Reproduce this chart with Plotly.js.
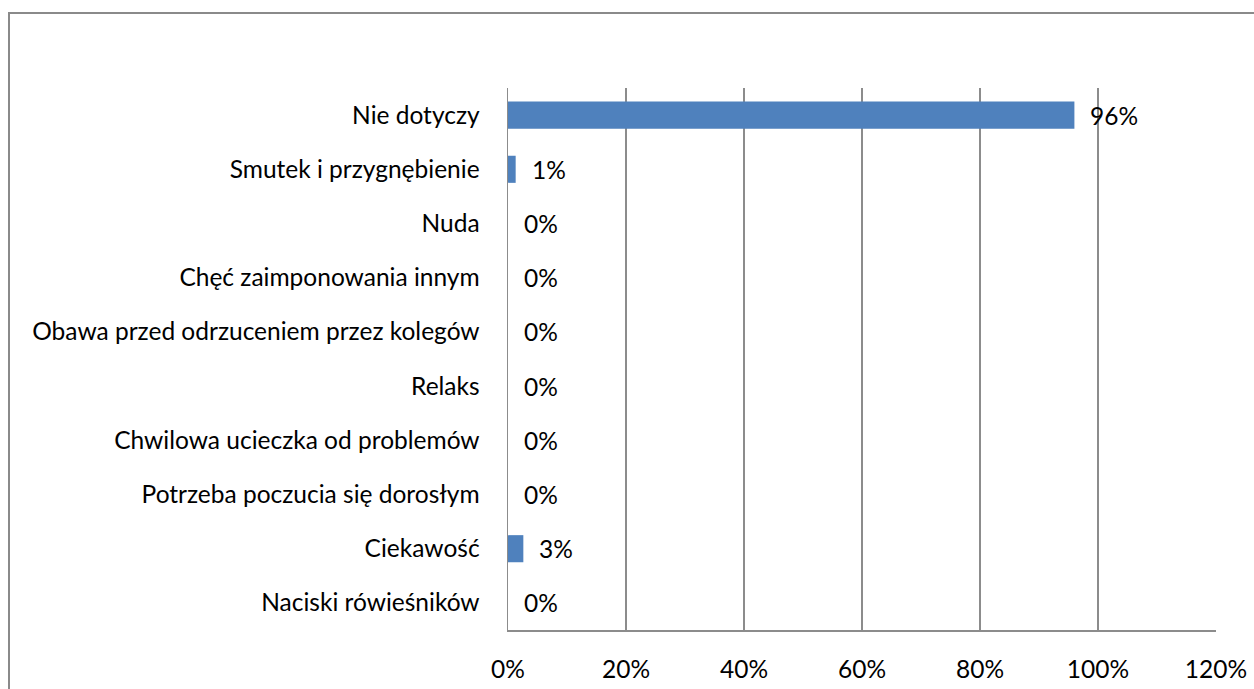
<!DOCTYPE html>
<html>
<head>
<meta charset="utf-8">
<script src="https://cdn.plot.ly/plotly-3.0.1.min.js"></script>
<style>
  html, body { margin: 0; padding: 0; background: #fff; }
  #frame { position: absolute; left: 8px; top: 12px; width: 1246px; height: 677px;
           border-left: 2px solid #8a8a8a; border-top: 2px solid #8a8a8a; pointer-events: none; }
  #chart { width: 1254px; height: 689px; }
</style>
</head>
<body>
<div id="chart"></div>
<div id="frame"></div>
<script>
// Categories listed top to bottom as in the chart
const categories = [
  "Nie dotyczy",
  "Smutek i przygnębienie",
  "Nuda",
  "Chęć zaimponowania innym",
  "Obawa przed odrzuceniem przez kolegów",
  "Relaks",
  "Chwilowa ucieczka od problemów",
  "Potrzeba poczucia się dorosłym",
  "Ciekawość",
  "Naciski rówieśników"
];
const values = [0.96, 0.013, 0, 0, 0, 0, 0, 0, 0.026, 0];
const xTickValues = [0, 0.2, 0.4, 0.6, 0.8, 1.0, 1.2];
const xTickLabels = ["0%", "20%", "40%", "60%", "80%", "100%", "120%"];

const font = "Lato, 'Open Sans', sans-serif";
const labels = values.map(v => Math.round(v * 100) + "%");

const trace = {
  type: "bar",
  orientation: "h",
  x: values,
  y: categories,
  marker: { color: "#4f81bd", line: { width: 0 } },
  hoverinfo: "none"
};

const annotations = values.map((v, i) => ({
  x: v, y: categories[i], xref: "x", yref: "y",
  text: labels[i], showarrow: false, xanchor: "left", yanchor: "middle",
  xshift: 14, font: { family: font, size: 24.5, color: "#000" }
}));

const layout = {
  width: 1254, height: 689,
  margin: { l: 508, r: 38, t: 88, b: 59 },
  paper_bgcolor: "#fff", plot_bgcolor: "#fff",
  bargap: 0.5,
  showlegend: false,
  font: { family: font, size: 24.5, color: "#000" },
  xaxis: {
    range: [0, 1.2], tickvals: xTickValues, ticktext: xTickLabels,
    showgrid: true, gridcolor: "#8c8c8c", gridwidth: 1.5,
    zeroline: false, showline: true, linecolor: "#8c8c8c", linewidth: 1.5,
    ticks: "", ticklabelstandoff: 17, fixedrange: true,
    tickfont: { family: font, size: 24.5, color: "#000" }
  },
  yaxis: {
    autorange: "reversed", type: "category",
    showgrid: false, zeroline: false, showline: true, linecolor: "#8c8c8c", linewidth: 1.5,
    ticks: "", ticklabelstandoff: 22, fixedrange: true,
    tickfont: { family: font, size: 24.5, color: "#000" }
  },
  annotations: annotations
};

Plotly.newPlot("chart", [trace], layout, { displayModeBar: false, staticPlot: true });
</script>
</body>
</html>
